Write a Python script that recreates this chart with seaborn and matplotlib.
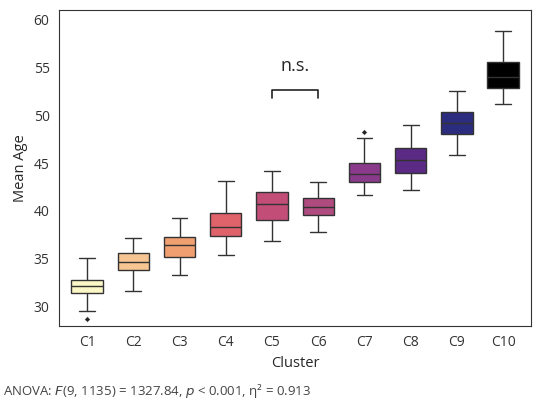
import pandas as pd
import matplotlib.pyplot as plt
import seaborn as sns

clusters = ['C1', 'C2', 'C3', 'C4', 'C5', 'C6', 'C7', 'C8', 'C9', 'C10']
whisker_low = [29.5, 31.6, 33.3, 35.4, 36.8, 37.8, 41.7, 42.2, 45.8, 51.2]
q1 = [31.4, 33.8, 35.2, 37.4, 39.1, 39.6, 43.0, 44.0, 48.0, 52.9]
median = [32.1, 34.7, 36.4, 38.3, 40.7, 40.4, 43.9, 45.3, 49.2, 54.0]
q3 = [32.8, 35.6, 37.3, 39.8, 42.0, 41.4, 45.0, 46.6, 50.3, 55.6]
whisker_high = [35.1, 37.2, 39.3, 43.1, 44.2, 43.0, 47.6, 49.0, 52.5, 58.8]
outlier_cluster = ['C1', 'C7']
outlier_value = [28.7, 48.3]
colors = ['#fbf7c6', '#f6c592', '#f0a070', '#e0626b', '#c24e78', '#b04b7f',
          '#8a3a8b', '#5b2a85', '#2c2c7e', '#000000']

rows = []
for i, c in enumerate(clusters):
    for v in (whisker_low[i], q1[i], median[i], q3[i], whisker_high[i]):
        rows.append({'Cluster': c, 'Mean Age': v})
df = pd.DataFrame(rows)

sns.set_style('white')
plt.rcParams['font.family'] = ['Open Sans', 'DejaVu Sans']
fig, ax = plt.subplots(figsize=(5.39, 4.07), dpi=100)
sns.boxplot(data=df, x='Cluster', y='Mean Age', hue='Cluster', palette=colors,
            saturation=1, whis=(0, 100), width=0.68, linewidth=1.0,
            linecolor='#333333', legend=False, ax=ax)
sns.scatterplot(x=outlier_cluster, y=outlier_value, marker='D', s=8,
                color='#222222', ax=ax)

ax.set_ylim(28, 61)
ax.set_yticks([30, 35, 40, 45, 50, 55, 60])
ax.set_xlim(-0.6, 9.6)
ax.tick_params(labelsize=10, colors='#333333')
ax.set_xlabel('Cluster', fontsize=10.5)
ax.set_ylabel('Mean Age', fontsize=10.5)
for s in ax.spines.values():
    s.set_color('#333333')

# n.s. bracket between C5 and C6
ax.plot([4, 4, 5, 5], [51.8, 52.6, 52.6, 51.8], color='#222222', lw=1.2)
ax.text(4.5, 54.2, 'n.s.', ha='center', va='bottom', fontsize=13)

fig.text(0.005, 0.03, 'ANOVA: $F$(9, 1135) = 1327.84, $p$ < 0.001, η² = 0.913',
         fontsize=9.5, color='#444444')
plt.subplots_adjust(left=0.11, right=0.985, top=0.975, bottom=0.2)
plt.savefig('out.png')
